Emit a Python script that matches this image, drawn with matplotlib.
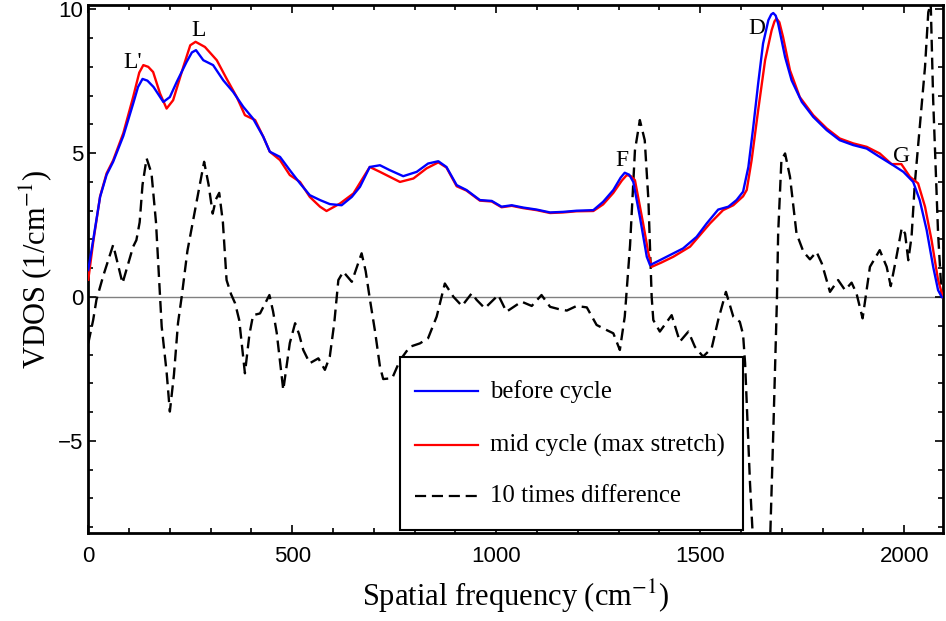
import matplotlib
matplotlib.use("Agg")
import matplotlib.pyplot as plt
import numpy as np
from matplotlib.patches import Rectangle

plt.rcParams['mathtext.fontset'] = 'stix'

# before cycle (blue)
x_before = [0, 12, 29, 45, 61, 86, 110, 122, 133, 145, 160, 184, 200, 217, 241, 254, 264, 282, 306,
            331, 355, 380, 404, 429, 445, 470, 494, 519, 543, 568, 592, 621, 646, 666, 690, 715,
            739, 772, 805, 833, 858, 878, 903, 927, 960, 989, 1013, 1038, 1066, 1099, 1132, 1164,
            1197, 1238, 1262, 1287, 1305, 1315, 1326, 1336, 1352, 1369, 1377, 1401, 1426, 1458,
            1491, 1516, 1544, 1569, 1589, 1605, 1618, 1630, 1642, 1654, 1667, 1674, 1679, 1685,
            1691, 1708, 1724, 1749, 1777, 1810, 1842, 1875, 1908, 1940, 1973, 1998, 2022, 2038,
            2055, 2071, 2083, 2092]
y_before = [0.94, 1.98, 3.48, 4.25, 4.7, 5.6, 6.72, 7.3, 7.58, 7.52, 7.3, 6.78, 6.95, 7.48, 8.17, 8.5,
            8.58, 8.23, 8.06, 7.53, 7.13, 6.61, 6.2, 5.57, 5.05, 4.87, 4.41, 3.95, 3.54, 3.37,
            3.23, 3.19, 3.48, 3.83, 4.52, 4.58, 4.41, 4.2, 4.35, 4.64, 4.72, 4.52, 3.89, 3.72,
            3.37, 3.34, 3.14, 3.19, 3.11, 3.04, 2.94, 2.96, 3.0, 3.02, 3.31, 3.72, 4.15, 4.32,
            4.25, 4.0, 2.79, 1.4, 1.11, 1.28, 1.46, 1.69, 2.09, 2.56, 3.04, 3.14, 3.37, 3.66,
            4.52, 5.91, 7.42, 8.81, 9.62, 9.82, 9.87, 9.78, 9.5, 8.34, 7.53, 6.78, 6.26, 5.8,
            5.45, 5.28, 5.16, 4.87, 4.58, 4.35, 4.0, 3.37, 2.33, 1.05, 0.24, 0.0]

# mid cycle (red)
x_mid = [0, 12, 29, 45, 61, 86, 110, 125, 135, 147, 159, 176, 192, 208, 233, 250, 263, 286, 315, 339,
         364, 384, 409, 429, 445, 470, 494, 519, 543, 568, 584, 617, 650, 690, 715, 764, 797, 829,
         858, 878, 903, 927, 960, 989, 1013, 1038, 1066, 1099, 1132, 1164, 1197, 1238, 1262, 1287,
         1308, 1320, 1330, 1340, 1360, 1373, 1381, 1405, 1434, 1475, 1524, 1556, 1581, 1605, 1614,
         1626, 1642, 1659, 1675, 1682, 1687, 1694, 1703, 1720, 1744, 1777, 1810, 1842, 1875, 1908,
         1940, 1969, 1993, 2014, 2034, 2051, 2067, 2083, 2095]
y_mid = [0.6, 1.9, 3.5, 4.3, 4.75, 5.7, 6.95, 7.8, 8.06, 8.0, 7.82, 7.07, 6.55, 6.84, 8.0, 8.75,
         8.87, 8.69, 8.23, 7.59, 6.95, 6.32, 6.15, 5.57, 5.05, 4.76, 4.24, 4.0, 3.48, 3.14, 2.99,
         3.25, 3.6, 4.52, 4.35, 4.0, 4.12, 4.47, 4.68, 4.5, 3.85, 3.7, 3.35, 3.32, 3.12, 3.17,
         3.09, 3.02, 2.92, 2.94, 2.98, 2.99, 3.22, 3.62, 4.05, 4.24, 4.2, 4.06, 2.56, 1.52, 1.05,
         1.2, 1.4, 1.75, 2.56, 3.02, 3.19, 3.5, 3.72, 4.76, 6.49, 8.23, 9.27, 9.58, 9.68, 9.55,
         9.04, 7.88, 6.95, 6.32, 5.86, 5.51, 5.34, 5.22, 4.99, 4.62, 4.62, 4.18, 3.95, 3.14, 1.98,
         0.59, 0.0]

# 10 times difference (dashed)
x_diff = [0, 12, 20, 37, 61, 84, 110, 118, 126, 133, 143, 155, 166, 180, 192, 200, 210, 220, 229,
          243, 257, 272, 284, 295, 305, 313, 321, 330, 339, 350, 360, 370, 384, 395, 404, 421, 444,
          453, 462, 478, 494, 507, 517, 527, 543, 564, 580, 592, 603, 613, 625, 646, 670, 680, 690,
          703, 715, 723, 745, 764, 788, 813, 833, 854, 874, 895, 916, 940, 952, 972, 1005, 1025,
          1062, 1087, 1111, 1132, 1156, 1173, 1197, 1222, 1246, 1271, 1287, 1303, 1315, 1328, 1340,
          1352, 1364, 1373, 1381, 1385, 1401, 1430, 1450, 1471, 1487, 1507, 1528, 1544, 1563, 1581,
          1597, 1605, 1610, 1622, 1650, 1671, 1679, 1688, 1691, 1699, 1708, 1720, 1736, 1753, 1769,
          1785, 1798, 1818, 1838, 1855, 1871, 1883, 1898, 1916, 1940, 1957, 1967, 1981, 1994, 2002,
          2010, 2018, 2026, 2038, 2051, 2059, 2065, 2071, 2083, 2092]
y_diff = [-1.61, -0.8, -0.1, 0.75, 1.81, 0.48, 1.75, 1.98, 2.6, 3.9, 4.82, 4.3, 2.6, -1.03, -2.6,
          -3.98, -2.7, -0.9, 0.01, 1.6, 2.67, 3.8, 4.7, 3.9, 2.9, 3.4, 3.62, 2.6, 0.59, 0.1, -0.22,
          -0.8, -2.65, -1.3, -0.63, -0.57, 0.07, -0.5, -1.25, -3.23, -1.6, -0.91, -1.3, -1.84, -2.3,
          -2.13, -2.53, -2.07, -0.9, 0.59, 0.88, 0.53, 1.52, 0.9, -0.05, -1.2, -2.42, -2.85, -2.82,
          -2.2, -1.73, -1.61, -1.43, -0.68, 0.47, 0.01, -0.31, 0.13, -0.1, -0.39, 0.07, -0.51,
          -0.16, -0.31, 0.07, -0.34, -0.43, -0.47, -0.31, -0.36, -0.97, -1.15, -1.26, -1.84, -0.68,
          1.8, 5.1, 6.15, 5.45, 3.37, 0.0, -0.8, -1.2, -0.63, -1.55, -1.2, -1.73, -2.07, -1.78,
          -0.8, 0.18, -0.68, -0.86, -1.3, -2.3, -6.47, -14.0, -8.6, -4.73, -0.1, 2.21, 4.76, 4.99,
          4.18, 2.21, 1.57, 1.31, 1.57, 1.17, 0.18, 0.59, 0.24, 0.5, 0.13, -0.74, 1.05, 1.63, 1.05,
          0.38, 1.4, 2.4, 2.21, 1.28, 2.1, 3.95, 5.91, 8.0, 9.9, 10.2, 6.84, 2.21, 0.0]

peak_names = ["L'", "L", "F", "D", "G"]
peak_x = [110, 270, 1307, 1638, 1994]
peak_y = [8.16, 9.27, 4.76, 9.33, 4.87]

labels = ['before cycle', 'mid cycle (max stretch)', '10 times difference']
colors = ['#0000ff', '#ff0000', 'black']
styles = ['-', '-', (0, (5, 2.6))]

fig = plt.figure(figsize=(9.46, 6.21), dpi=100)
ax = fig.add_axes([0.0933, 0.1417, 0.9035, 0.8503])

ax.axhline(0, color='#808080', lw=1.0, zorder=1)
ax.plot(x_diff, y_diff, color=colors[2], lw=1.7, linestyle=styles[2], zorder=2)
ax.plot(x_mid, y_mid, color=colors[1], lw=1.7, zorder=3)
ax.plot(x_before, y_before, color=colors[0], lw=1.7, zorder=4)

for name, px, py in zip(peak_names, peak_x, peak_y):
    ax.text(px, py, name, ha='center', va='center', fontsize=17, family='Liberation Serif')

ax.set_xlim(0, 2095)
ax.set_ylim(-8.2, 10.15)
ax.set_xticks([0, 500, 1000, 1500, 2000])
ax.set_xticks(np.arange(0, 2100, 100), minor=True)
ax.set_yticks([-5, 0, 5, 10])
ax.set_yticklabels(['\u22125', '0', '5', '10'])
ax.set_yticks(np.arange(-8, 11, 1), minor=True)
ax.tick_params(which='both', direction='in', top=True, right=True, width=1.2, labelsize=16)
ax.tick_params(which='major', length=6)
ax.tick_params(which='minor', length=3.5)
ax.tick_params(axis='x', pad=9)
for lab in ax.get_xticklabels() + ax.get_yticklabels():
    lab.set_family('Liberation Sans')
for s in ax.spines.values():
    s.set_linewidth(2.0)

ax.set_xlabel('Spatial frequency (cm$^{-1}$)', fontsize=22, family='Liberation Serif', labelpad=8)
ax.set_ylabel('VDOS (1/cm$^{-1}$)', fontsize=22, family='Liberation Serif', labelpad=3)

# legend box drawn by hand (square frame, roomy rows)
ax.add_patch(Rectangle((0.3647, 0.0057), 0.4013, 0.3276, transform=ax.transAxes,
                       facecolor='white', edgecolor='black', lw=1.5, zorder=10))
row_y = [0.2689, 0.1667, 0.0701]
for lab, c, ls, ry in zip(labels, colors, styles, row_y):
    ax.plot([0.3823, 0.456], [ry, ry], transform=ax.transAxes, color=c, lw=1.6,
            linestyle=ls, zorder=11, clip_on=False)
    ax.text(0.470, ry, lab, transform=ax.transAxes, va='center', ha='left',
            fontsize=17.8, family='Liberation Serif', zorder=12)

fig.savefig('out.png', dpi=100)
